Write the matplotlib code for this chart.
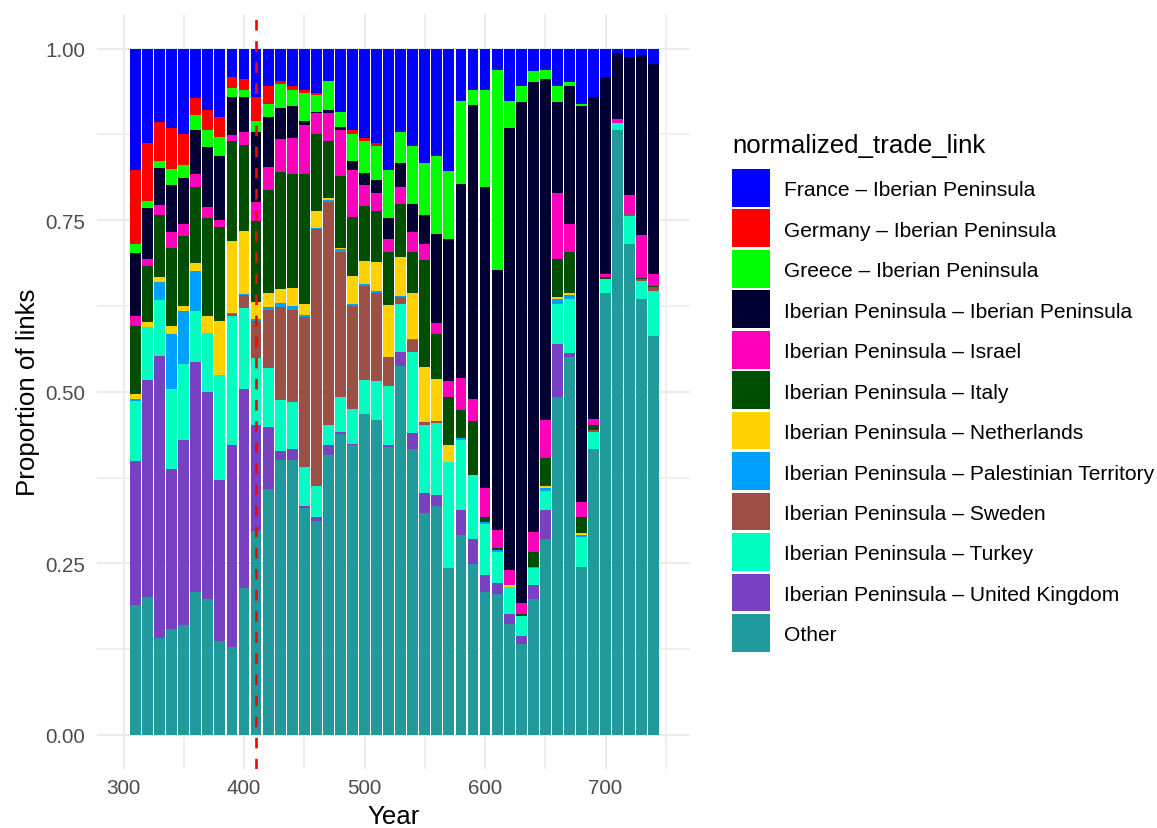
import matplotlib
matplotlib.use("Agg")
import matplotlib.pyplot as plt
import numpy as np
from matplotlib.patches import Rectangle
from matplotlib.ticker import MultipleLocator

plt.rcParams['font.family'] = ['Liberation Sans', 'DejaVu Sans']

years = [310, 320, 330, 340, 350, 360, 370, 380, 390, 400, 410,
         420, 430, 440, 450, 460, 470, 480, 490, 500, 510, 520,
         530, 540, 550, 560, 570, 580, 590, 600, 610, 620, 630,
         640, 650, 660, 670, 680, 690, 700, 710, 720, 730, 740]

france = [0.177, 0.138, 0.107, 0.116, 0.125, 0.072, 0.090, 0.100, 0.041, 0.045, 0.070,
          0.055, 0.048, 0.055, 0.060, 0.065, 0.048, 0.092, 0.119, 0.131, 0.138, 0.177,
          0.121, 0.142, 0.167, 0.157, 0.179, 0.076, 0.060, 0.060, 0.032, 0.077, 0.054,
          0.033, 0.031, 0.054, 0.049, 0.081, 0.070, 0.041, 0.007, 0.012, 0.010, 0.022]
germany = [0.108, 0.084, 0.057, 0.060, 0.044, 0.025, 0.028, 0.029, 0.016, 0.016, 0.036,
           0.026, 0.004, 0.005, 0.005, 0.003, 0.000, 0.000, 0.005, 0.004, 0.004, 0.000,
           0.000, 0.000, 0.000, 0.000, 0.000, 0.000, 0.000, 0.000, 0.000, 0.000, 0.000,
           0.000, 0.000, 0.000, 0.000, 0.000, 0.000, 0.000, 0.000, 0.000, 0.000, 0.000]
greece = [0.013, 0.010, 0.010, 0.023, 0.020, 0.022, 0.026, 0.027, 0.014, 0.009, 0.016,
          0.019, 0.034, 0.024, 0.040, 0.025, 0.042, 0.023, 0.040, 0.047, 0.050, 0.070,
          0.046, 0.085, 0.076, 0.113, 0.099, 0.122, 0.023, 0.142, 0.291, 0.039, 0.024,
          0.016, 0.014, 0.024, 0.006, 0.003, 0.001, 0.000, 0.000, 0.000, 0.000, 0.000]
iberia = [0.093, 0.074, 0.054, 0.069, 0.067, 0.064, 0.087, 0.094, 0.055, 0.052, 0.102,
          0.072, 0.046, 0.047, 0.007, 0.001, 0.004, 0.004, 0.013, 0.017, 0.019, 0.031,
          0.034, 0.040, 0.042, 0.130, 0.207, 0.282, 0.427, 0.438, 0.379, 0.643, 0.730,
          0.656, 0.496, 0.133, 0.201, 0.576, 0.468, 0.287, 0.096, 0.202, 0.262, 0.306]
israel = [0.014, 0.011, 0.015, 0.022, 0.017, 0.019, 0.016, 0.010, 0.008, 0.018, 0.027,
          0.034, 0.048, 0.052, 0.071, 0.031, 0.040, 0.066, 0.069, 0.031, 0.026, 0.019,
          0.026, 0.030, 0.023, 0.016, 0.022, 0.046, 0.032, 0.042, 0.025, 0.022, 0.016,
          0.029, 0.055, 0.096, 0.041, 0.022, 0.009, 0.005, 0.005, 0.027, 0.062, 0.018]
italy = [0.099, 0.082, 0.090, 0.114, 0.102, 0.110, 0.143, 0.137, 0.147, 0.126, 0.118,
         0.150, 0.170, 0.166, 0.189, 0.112, 0.084, 0.106, 0.085, 0.080, 0.074, 0.077,
         0.077, 0.059, 0.156, 0.065, 0.071, 0.042, 0.079, 0.008, 0.004, 0.001, 0.002,
         0.022, 0.042, 0.055, 0.059, 0.024, 0.007, 0.003, 0.000, 0.000, 0.002, 0.002]
netherlands = [0.008, 0.006, 0.007, 0.012, 0.007, 0.012, 0.024, 0.078, 0.104, 0.091, 0.025,
               0.020, 0.021, 0.026, 0.016, 0.025, 0.003, 0.001, 0.041, 0.033, 0.042, 0.075,
               0.056, 0.067, 0.080, 0.061, 0.024, 0.000, 0.001, 0.000, 0.000, 0.003, 0.000,
               0.000, 0.002, 0.003, 0.003, 0.002, 0.000, 0.000, 0.000, 0.000, 0.000, 0.000]
palestine = [0.003, 0.000, 0.026, 0.080, 0.077, 0.058, 0.000, 0.000, 0.002, 0.001, 0.003,
             0.005, 0.005, 0.006, 0.003, 0.001, 0.003, 0.005, 0.003, 0.003, 0.003, 0.000,
             0.002, 0.001, 0.000, 0.000, 0.000, 0.002, 0.000, 0.003, 0.002, 0.000, 0.000,
             0.001, 0.004, 0.007, 0.006, 0.003, 0.001, 0.000, 0.000, 0.000, 0.000, 0.000]
sweden = [0.000, 0.000, 0.000, 0.000, 0.000, 0.000, 0.000, 0.000, 0.003, 0.020, 0.054,
          0.084, 0.136, 0.134, 0.218, 0.374, 0.324, 0.210, 0.150, 0.137, 0.129, 0.042,
          0.010, 0.018, 0.005, 0.003, 0.000, 0.000, 0.000, 0.000, 0.000, 0.000, 0.000,
          0.000, 0.000, 0.000, 0.000, 0.000, 0.002, 0.000, 0.000, 0.003, 0.002, 0.005]
turkey = [0.087, 0.078, 0.082, 0.117, 0.111, 0.074, 0.086, 0.154, 0.188, 0.117, 0.098,
          0.087, 0.074, 0.068, 0.057, 0.045, 0.030, 0.051, 0.051, 0.050, 0.056, 0.086,
          0.070, 0.118, 0.098, 0.106, 0.155, 0.102, 0.093, 0.074, 0.046, 0.039, 0.030,
          0.025, 0.028, 0.058, 0.078, 0.045, 0.025, 0.020, 0.011, 0.041, 0.027, 0.066]
united_kingdom = [0.210, 0.316, 0.411, 0.233, 0.270, 0.335, 0.302, 0.234, 0.294, 0.290, 0.154,
                  0.090, 0.014, 0.016, 0.003, 0.007, 0.014, 0.003, 0.002, 0.000, 0.000, 0.004,
                  0.020, 0.023, 0.029, 0.015, 0.000, 0.036, 0.036, 0.024, 0.016, 0.015, 0.012,
                  0.020, 0.042, 0.077, 0.006, 0.000, 0.000, 0.000, 0.000, 0.000, 0.000, 0.000]
other = [0.190, 0.201, 0.141, 0.154, 0.160, 0.209, 0.198, 0.137, 0.128, 0.214, 0.297,
         0.358, 0.400, 0.401, 0.331, 0.311, 0.408, 0.439, 0.422, 0.467, 0.459, 0.419,
         0.538, 0.417, 0.324, 0.334, 0.243, 0.292, 0.249, 0.209, 0.205, 0.161, 0.132,
         0.198, 0.286, 0.493, 0.551, 0.244, 0.417, 0.644, 0.881, 0.715, 0.635, 0.581]

labels = ["France – Iberian Peninsula",
          "Germany – Iberian Peninsula",
          "Greece – Iberian Peninsula",
          "Iberian Peninsula – Iberian Peninsula",
          "Iberian Peninsula – Israel",
          "Iberian Peninsula – Italy",
          "Iberian Peninsula – Netherlands",
          "Iberian Peninsula – Palestinian Territory",
          "Iberian Peninsula – Sweden",
          "Iberian Peninsula – Turkey",
          "Iberian Peninsula – United Kingdom",
          "Other"]
series = [france, germany, greece, iberia, israel, italy, netherlands,
          palestine, sweden, turkey, united_kingdom, other]
colors = ["#0000FF", "#FF0000", "#00FF00", "#000033", "#FF00BB", "#004F00",
          "#FFD200", "#00A0FF", "#9C4F46", "#00FFC0", "#7841C2", "#209A9A"]

highlight_year = 410

# proportions per year (fill position: each column scaled to 1)
vals = np.array(series, dtype=float)
vals = vals / vals.sum(axis=0, keepdims=True)

W, H = 1157, 829
fig = plt.figure(figsize=(W / 100, H / 100), dpi=100)
ax = fig.add_axes([97.0 / W, 1 - 770.3 / H, 592.9 / W, 755.1 / H])

x = np.array(years)
bottom = np.zeros(len(years))
# stack from the last level upwards so the first level sits on top
for i in range(len(series) - 1, -1, -1):
    ax.bar(x, vals[i], width=9, bottom=bottom, color=colors[i],
           edgecolor='none', linewidth=0, zorder=2)
    bottom += vals[i]

ax.axvline(highlight_year, color='#FF0000', linestyle=(0, (4, 4)),
           linewidth=1.9, zorder=3)

ax.set_xlim(278, 770)
ax.set_ylim(-0.05, 1.05)
ax.xaxis.set_major_locator(MultipleLocator(100))
ax.xaxis.set_minor_locator(MultipleLocator(50))
ax.set_yticks([0, 0.25, 0.5, 0.75, 1.0])
ax.set_yticklabels(["0.00", "0.25", "0.50", "0.75", "1.00"])
ax.yaxis.set_minor_locator(MultipleLocator(0.125))

ax.grid(which='major', color='#EBEBEB', linewidth=1.5, zorder=0)
ax.grid(which='minor', color='#EBEBEB', linewidth=1.1, zorder=0)
ax.set_axisbelow(True)
for s in ax.spines.values():
    s.set_visible(False)
ax.tick_params(which='both', length=0)
ax.tick_params(axis='x', labelsize=14.9, labelcolor='#4D4D4D', pad=6.5)
ax.tick_params(axis='y', labelsize=14.9, labelcolor='#4D4D4D', pad=8.6)

ax.set_xlabel("Year", fontsize=18.6, labelpad=4.5)
ax.set_ylabel("Proportion of links", fontsize=18.6, labelpad=4)

# legend drawn in figure pixel coordinates
def fx(px):
    return px / W

def fy(py):
    return 1 - py / H

fig.text(fx(732), fy(153), "normalized_trade_link", fontsize=18.6,
         ha='left', va='baseline', color='black')
key_w, key_h, step = 38.0, 37.7, 40.45
for j, (lab, col) in enumerate(zip(labels, colors)):
    top = 170 + j * step
    fig.add_artist(Rectangle((fx(732), fy(top + key_h)), key_w / W, key_h / H,
                             transform=fig.transFigure, facecolor=col,
                             edgecolor='none'))
    center = top + key_h / 2
    fig.text(fx(784), fy(center + 7.5), lab, fontsize=15.1,
             ha='left', va='baseline', color='black')

fig.savefig("out.png", dpi=100)
